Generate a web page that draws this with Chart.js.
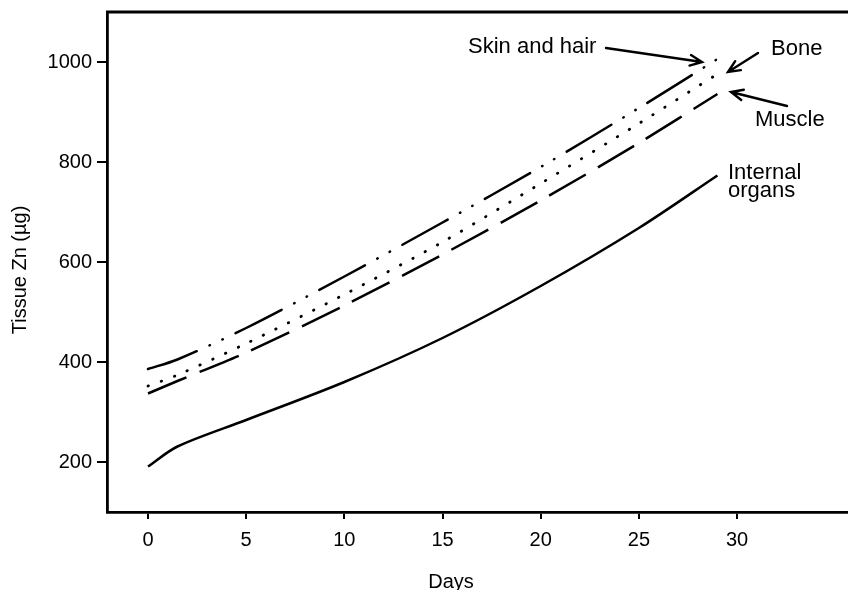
<!DOCTYPE html>
<html>
<head>
<meta charset="utf-8">
<script src="https://cdn.jsdelivr.net/npm/chart.js@4"></script>
<style>
  html, body { margin: 0; padding: 0; background: #fff; }
  #wrap { width: 848px; height: 590px; }
</style>
</head>
<body>
<div id="wrap"><canvas id="znChart"></canvas></div>
<script>
// values (days vs tissue Zn in µg)
const days = [0, 1.5, 5, 10, 15, 20, 25, 29];
const skinHair = [386, 405, 468, 571, 679, 790, 908, 1006];
const bone = [352, 374, 437, 535, 640, 757, 877, 976];
const muscle = [337, 362, 419, 513, 615, 723, 838, 936];
const internalOrgans = [191, 231, 284, 360, 448, 552, 668, 773];

const xTicks = [0, 5, 10, 15, 20, 25, 30];
const yTicks = [200, 400, 600, 800, 1000];

const FONT = "'Liberation Sans', Arial, Helvetica, sans-serif";

function toPoints(ys) {
    return days.map(function(d, i) { return { x: d, y: ys[i] }; });
}

function arrow(ctx, x1, y1, x2, y2) {
    const ang = Math.atan2(y2 - y1, x2 - x1);
    const head = 13, spread = 0.42;
    ctx.beginPath();
    ctx.moveTo(x1, y1);
    ctx.lineTo(x2, y2);
    ctx.moveTo(x2 - head * Math.cos(ang - spread), y2 - head * Math.sin(ang - spread));
    ctx.lineTo(x2, y2);
    ctx.lineTo(x2 - head * Math.cos(ang + spread), y2 - head * Math.sin(ang + spread));
    ctx.stroke();
}

// frame top line, axis titles, labels and arrows
const decorations = {
    id: 'decorations',
    afterDraw: function(chart) {
        const ctx = chart.ctx;
        const area = chart.chartArea;
        ctx.save();
        ctx.strokeStyle = '#000';
        ctx.fillStyle = '#000';
        ctx.lineWidth = 2.8;
        ctx.beginPath();
        ctx.moveTo(area.left - 1, area.top);
        ctx.lineTo(area.right, area.top);
        ctx.stroke();

        ctx.font = '20px ' + FONT;
        ctx.textAlign = 'center';
        ctx.textBaseline = 'alphabetic';
        ctx.fillText('Days', 451, 588);

        ctx.save();
        ctx.translate(26, 270);
        ctx.rotate(-Math.PI / 2);
        ctx.fillText('Tissue Zn (µg)', 0, 0);
        ctx.restore();

        ctx.font = '22px ' + FONT;
        ctx.textAlign = 'left';
        ctx.fillText('Skin and hair', 468, 53);
        ctx.fillText('Bone', 771, 55);
        ctx.fillText('Muscle', 755, 126);
        ctx.fillText('Internal', 728, 179);
        ctx.fillText('organs', 728, 197);

        ctx.lineWidth = 2.4;
        ctx.lineCap = 'round';
        arrow(ctx, 606, 48, 702, 62);
        arrow(ctx, 758, 53, 728, 72);
        arrow(ctx, 787, 106, 731, 92);
        ctx.restore();
    }
};

const lineStyle = {
    borderColor: '#000',
    borderWidth: 2.5,
    pointRadius: 0,
    fill: false,
    tension: 0.3
};

new Chart(document.getElementById('znChart'), {
    type: 'line',
    data: {
        datasets: [
            Object.assign({}, lineStyle, {
                label: 'Skin and hair', data: toPoints(skinHair),
                borderCapStyle: 'round', borderDash: [52, 14, 0.5, 13.5, 0.5, 14]
            }),
            Object.assign({}, lineStyle, {
                label: 'Bone', data: toPoints(bone),
                borderCapStyle: 'round', borderWidth: 2.8, borderDash: [0.5, 13.5]
            }),
            Object.assign({}, lineStyle, {
                label: 'Muscle', data: toPoints(muscle), borderDash: [42, 14]
            }),
            Object.assign({}, lineStyle, {
                label: 'Internal organs', data: toPoints(internalOrgans)
            })
        ]
    },
    options: {
        responsive: true,
        maintainAspectRatio: false,
        animation: false,
        layout: { padding: { top: 12, left: 0, right: 0, bottom: 0 } },
        plugins: {
            legend: { display: false },
            tooltip: { enabled: false }
        },
        scales: {
            x: {
                type: 'linear',
                min: -2.088,
                max: 35.65,
                afterBuildTicks: function(scale) {
                    scale.ticks = xTicks.map(function(v) { return { value: v }; });
                },
                afterFit: function(scale) {
                    scale.height = 78;
                    scale.paddingLeft = 0;
                    scale.paddingRight = 0;
                },
                grid: {
                    drawOnChartArea: false,
                    drawTicks: true,
                    tickLength: 7,
                    color: '#000',
                    lineWidth: 2
                },
                border: { display: true, color: '#000', width: 2.8 },
                ticks: {
                    color: '#000',
                    padding: 9,
                    maxRotation: 0,
                    font: { family: FONT, size: 20 },
                    callback: function(value) { return String(value); }
                }
            },
            y: {
                type: 'linear',
                min: 100,
                max: 1100,
                afterBuildTicks: function(scale) {
                    scale.ticks = yTicks.map(function(v) { return { value: v }; });
                },
                afterFit: function(scale) {
                    scale.width = 107;
                    scale.paddingTop = 0;
                    scale.paddingBottom = 0;
                },
                grid: {
                    drawOnChartArea: false,
                    drawTicks: true,
                    tickLength: 10,
                    color: '#000',
                    lineWidth: 2
                },
                border: { display: true, color: '#000', width: 2.8 },
                ticks: {
                    color: '#000',
                    padding: 5,
                    font: { family: FONT, size: 20 },
                    callback: function(value) { return String(value); }
                }
            }
        }
    },
    plugins: [decorations]
});
</script>
</body>
</html>
